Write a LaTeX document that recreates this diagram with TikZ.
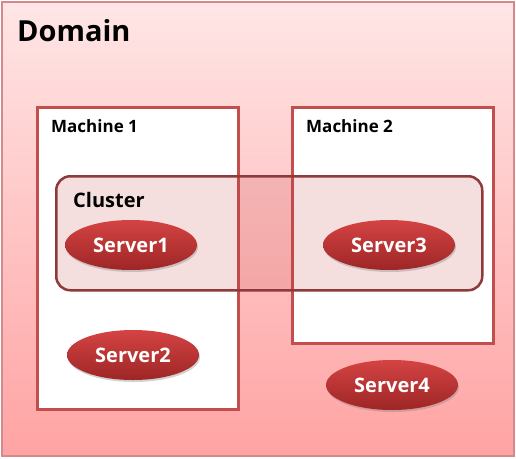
\documentclass[tikz,border=0pt]{standalone}
\usepackage{fontspec}
\setmainfont{Open Sans}
\usetikzlibrary{shapes.geometric,shadows}

\definecolor{domaintop}{HTML}{FFE6E6}
\definecolor{domainbottom}{HTML}{FFA3A3}
\definecolor{domainedge}{HTML}{D48A8A}
\definecolor{machineedge}{HTML}{C24E4E}
\definecolor{clusteredge}{HTML}{8E3A3A}
\definecolor{clusterfill}{HTML}{C04040}
\definecolor{servertop}{HTML}{D44343}
\definecolor{serverbottom}{HTML}{9E2626}

\tikzset{
  machine/.style={draw=machineedge, line width=2.5pt, fill=white, anchor=north west, inner sep=0pt},
  cluster/.style={draw=clusteredge, line width=2.5pt, fill=clusterfill, fill opacity=0.17,
    rounded corners=14pt, anchor=north west, inner sep=0pt},
  server/.style={ellipse, minimum width=132pt, minimum height=50pt, top color=servertop,
    bottom color=serverbottom, draw=none, text=white, font=\bfseries\fontsize{20}{22}\selectfont,
    drop shadow={shadow xshift=1pt, shadow yshift=-2pt, opacity=0.35}},
  label/.style={anchor=north west, inner sep=0pt, font=\bfseries\fontsize{17}{20}\selectfont}
}

\begin{document}
\begin{tikzpicture}[x=1pt,y=-1pt]
  \useasboundingbox (0,0) rectangle (516,458);

  % domain
  \shade[top color=domaintop, bottom color=domainbottom] (2,2) rectangle (514,456);
  \draw[domainedge, line width=1.5pt] (2,2) rectangle (514,456);
  \node[anchor=north west, inner sep=0pt, font=\bfseries\fontsize{29}{34}\selectfont] (domainlbl) at (17,19) {Domain};

  % machines
  \node[machine, minimum width=201pt, minimum height=302pt] (mach1) at (36,106) {};
  \node[machine, minimum width=201pt, minimum height=236pt] (mach2) at (291,106) {};
  \node[label] (mach1lbl) at (51,119) {Machine 1};
  \node[label] (mach2lbl) at (306,119) {Machine 2};

  % cluster
  \node[cluster, minimum width=426pt, minimum height=114pt] (clust) at (55,175) {};
  \node[label, font=\bfseries\fontsize{20}{24}\selectfont] (clustlbl) at (73,192) {Cluster};

  % servers
  \node[server] (srv1) at (131,245) {Server1};
  \node[server] (srv3) at (389,245) {Server3};
  \node[server] (srv2) at (133,355) {Server2};
  \node[server] (srv4) at (392,385) {Server4};
\end{tikzpicture}
\end{document}
